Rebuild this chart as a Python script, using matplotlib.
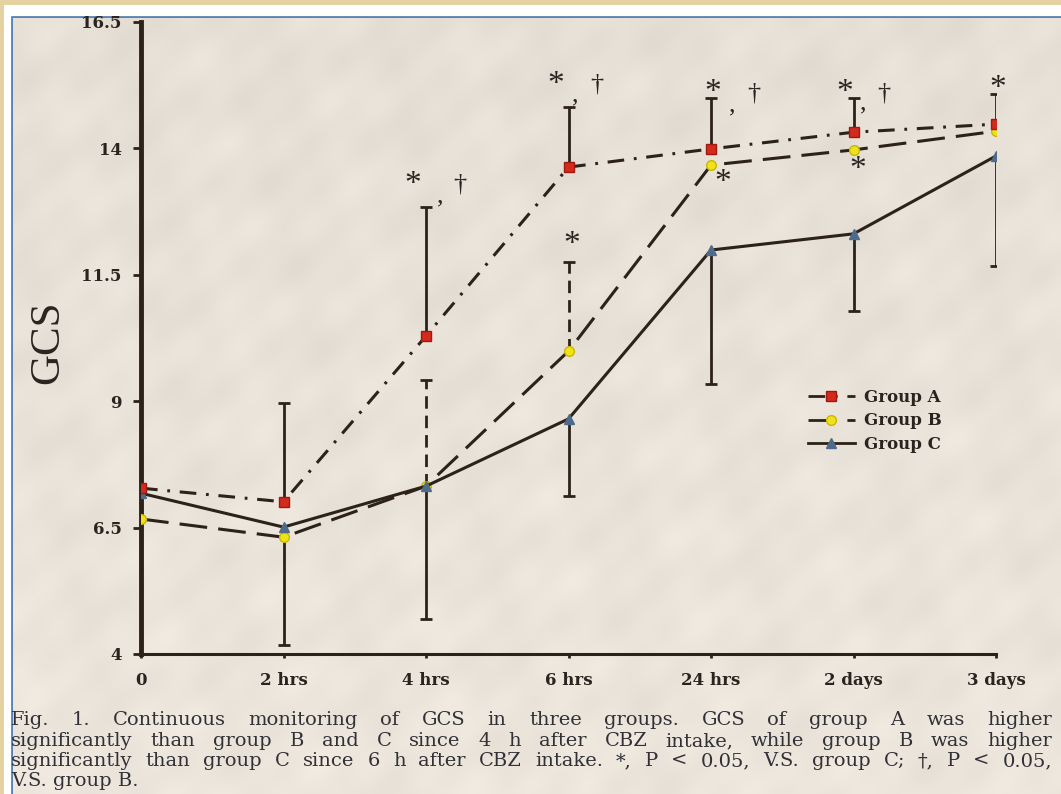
import matplotlib
matplotlib.use('Agg')
import matplotlib.pyplot as plt
from matplotlib.patches import Rectangle
from matplotlib.lines import Line2D
import numpy as np

# ---------------- data ----------------
time_labels = ['0', '2 hrs', '4 hrs', '6 hrs', '24 hrs', '2 days', '3 days']
group_a = [7.28, 7.01, 10.29, 13.63, 13.99, 14.32, 14.48]
group_b = [6.67, 6.31, 7.32, 9.99, 13.67, 13.97, 14.34]
group_c = [7.18, 6.51, 7.32, 8.65, 11.99, 12.31, 13.85]
a_err_up = [0.0, 1.95, 2.55, 1.19, 1.01, 0.68, 0.60]
b_err_up = [0.0, 0.0, 2.10, 1.76, 0.0, 0.0, 0.0]
c_err_down = [0.0, 2.33, 2.62, 1.52, 2.65, 1.53, 2.18]
y_ticks = [4, 6.5, 9, 11.5, 14, 16.5]
y_tick_labels = ['4', '6.5', '9', '11.5', '14', '16.5']
series_names = ['Group A', 'Group B', 'Group C']
caption_lines = [
    'Fig. 1. Continuous monitoring of GCS in three groups. GCS of group A was higher',
    'significantly than group B and C since 4 h after CBZ intake, while group B was higher',
    'significantly than group C since 6 h after CBZ intake. *, P < 0.05, V.S. group C; \u2020, P < 0.05,',
    'V.S. group B.',
]
# significance marks: (text, x, y) in data units
sig_marks = [
    ('*', 1.91, 13.28), (',', 2.10, 13.04), ('\u2020', 2.24, 13.28),
    ('*', 2.91, 15.26), (',', 3.05, 15.04), ('\u2020', 3.20, 15.26),
    ('*', 4.01, 15.10), (',', 4.15, 14.84), ('\u2020', 4.30, 15.08),
    ('*', 4.94, 15.10), (',', 5.07, 14.88), ('\u2020', 5.21, 15.08),
    ('*', 6.01, 15.18),
    ('*', 3.02, 12.09),
    ('*', 4.08, 13.32),
    ('*', 5.03, 13.58),
]

# ---------------- style ----------------
plt.rcParams['lines.scale_dashes'] = False
W, H = 1061, 794
ink = '#2c2219'
red = '#d42a1e'
yellow = '#eee21a'
slate = '#4f6b8c'
dash_a = (12, 7, 2, 7)
dash_b = (20, 8)
dash_b_err = (9, 5)

fig = plt.figure(figsize=(W / 100, H / 100), dpi=100)
fig.patch.set_facecolor('#e4d3a0')
fig.add_artist(Rectangle((4 / W, -0.01), 1.0, 1 - 5 / H + 0.01, transform=fig.transFigure,
                         facecolor='white', edgecolor='none', zorder=0))
fig.add_artist(Rectangle((12 / W, -0.01), 1.0, 1 - 17 / H + 0.01, transform=fig.transFigure,
                         facecolor='#e9e2d9', edgecolor='#5a82b4', lw=2, zorder=0.2))

# subtle paper shading (decorative background only)
bg = fig.add_axes([13 / W, 0, 1 - 13 / W, 1 - 18 / H], zorder=0.3)
bg.set_axis_off()
gx, gy = np.meshgrid(np.linspace(0, 1, 400), np.linspace(0, 1, 300))
tex = (np.sin(37 * gx + 23 * gy) * np.sin(11 * gx - 29 * gy + 1.3)
       + 0.6 * np.sin(71 * gx - 47 * gy + 0.7) * np.sin(19 * gy + 53 * gx)
       + 0.4 * np.sin(113 * gx + 89 * gy + 2.1))
tex = tex / np.abs(tex).max()
base = np.array([0xe9, 0xe2, 0xd9]) / 255.0
img = np.clip(base[None, None, :] + (0.025 * tex + 0.025 * gy - 0.01)[:, :, None], 0, 1)
bg.imshow(img, aspect='auto', interpolation='bilinear', extent=(0, 1, 0, 1))

ax = fig.add_axes([141 / W, 1 - 654 / H, 855 / W, 632 / H], zorder=1)
ax.set_facecolor('none')
x = np.arange(len(time_labels))
ax.set_xlim(0, 6)
ax.set_ylim(4, 16.5)

for s in ['top', 'right']:
    ax.spines[s].set_visible(False)
ax.spines['left'].set_linewidth(3.5)
ax.spines['left'].set_color(ink)
ax.spines['bottom'].set_linewidth(2.2)
ax.spines['bottom'].set_color(ink)

ax.set_yticks(y_ticks)
ax.set_yticklabels(y_tick_labels)
ax.set_xticks(x)
ax.set_xticklabels(time_labels)
tick_font = dict(family='DejaVu Serif', weight='bold', size=12)
for lab in ax.get_xticklabels() + ax.get_yticklabels():
    lab.set_fontproperties(tick_font)
    lab.set_color('#2a2420')
ax.tick_params(axis='y', direction='out', length=6, width=2, color=ink, pad=8)
ax.tick_params(axis='x', direction='out', length=3, width=2, color=ink, pad=10)

fig.text(48 / W, 1 - 342 / H, 'GCS', rotation=90, ha='center', va='center',
         family='Liberation Serif', size=31, color='#2a2420')

# ---------------- error bars ----------------
ga, gb, gc = np.array(group_a), np.array(group_b), np.array(group_c)
ea, eb, ec = np.array(a_err_up), np.array(b_err_up), np.array(c_err_down)
m = ea > 0
ax.vlines(x[m], ga[m], ga[m] + ea[m], color=ink, lw=2, zorder=2)
ax.plot(x[m], ga[m] + ea[m], ls='none', marker='_', ms=9, mew=2, color=ink, zorder=2)
m = eb > 0
ax.vlines(x[m], gb[m], gb[m] + eb[m], color=ink, lw=2, linestyles=[(0, dash_b_err)], zorder=2)
ax.plot(x[m], gb[m] + eb[m], ls='none', marker='_', ms=9, mew=2, color=ink, zorder=2)
m = ec > 0
ax.vlines(x[m], gc[m] - ec[m], gc[m], color=ink, lw=2, zorder=2)
ax.plot(x[m], gc[m] - ec[m], ls='none', marker='_', ms=9, mew=2, color=ink, zorder=2)

# ---------------- lines ----------------
ax.plot(x, gb, color=ink, lw=2.2, dashes=dash_b, marker='o', ms=7, mfc=yellow, mec='#c8b800', zorder=3)
ax.plot(x, gc, color=ink, lw=2.2, marker='^', ms=7, mfc=slate, mec=slate, zorder=3.5)
ax.plot(x, ga, color=ink, lw=2.2, dashes=dash_a, marker='s', ms=7, mfc=red, mec='#a01810', zorder=4)

for t, xx, yy in sig_marks:
    sz = 24 if t == '*' else 19
    ax.text(xx, yy, t, ha='center', va='center', family='Liberation Serif', size=sz, color='#2a2420')

# ---------------- legend ----------------
handles = [
    Line2D([], [], color=ink, lw=2, dashes=dash_a, marker='s', ms=7, mfc=red, mec='#a01810'),
    Line2D([], [], color=ink, lw=2, dashes=dash_b, marker='o', ms=7, mfc=yellow, mec='#c8b800'),
    Line2D([], [], color=ink, lw=2, marker='^', ms=7, mfc=slate, mec=slate),
]
leg = ax.legend(handles, series_names, loc='upper left', bbox_to_anchor=(808 / W, 1 - 389 / H),
                bbox_transform=fig.transFigure, frameon=False, handlelength=2.8, handletextpad=0.55,
                labelspacing=0.38, borderpad=0, borderaxespad=0,
                prop=dict(family='DejaVu Serif', weight='bold', size=12))
for t in leg.get_texts():
    t.set_color('#2a2420')

# ---------------- caption (justified) ----------------
cap_kw = dict(family='DejaVu Serif', size=14, color='#303036')
renderer = fig.canvas.get_renderer()
left_px, right_px = 11, 1052
line_y = [720, 741, 761, 781]
for i, line in enumerate(caption_lines):
    yy = 1 - line_y[i] / H
    words = line.split(' ')
    if i == len(caption_lines) - 1:
        fig.text(left_px / W, yy, line, ha='left', va='center', **cap_kw)
        continue
    widths = []
    for w in words:
        t = fig.text(0, 0, w, **cap_kw)
        widths.append(t.get_window_extent(renderer).width)
        t.remove()
    gap = (right_px - left_px - sum(widths)) / (len(words) - 1)
    cx = left_px
    for w, wd in zip(words, widths):
        fig.text(cx / W, yy, w, ha='left', va='center', **cap_kw)
        cx += wd + gap

fig.savefig('out.png', dpi=100, facecolor=fig.get_facecolor())
